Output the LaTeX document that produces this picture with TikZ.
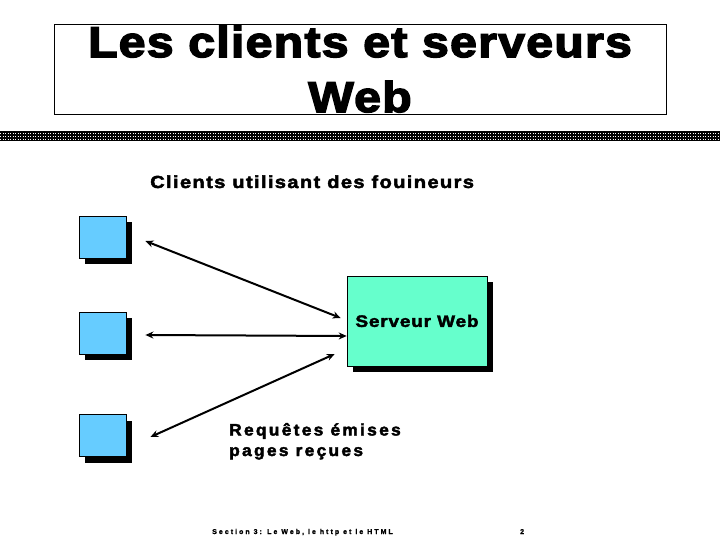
\documentclass[tikz,border=0pt]{standalone}
\usepackage{fontspec}
\setmainfont{Liberation Sans}
\newfontfamily\titlefont{Liberation Sans}[FakeBold=3.5,FakeStretch=1.12,LetterSpace=3]
\newfontfamily\headfont{Liberation Sans}[FakeBold=2.5,FakeStretch=1.15,LetterSpace=7.7]
\newfontfamily\spacedfont{Liberation Sans}[LetterSpace=14,FakeStretch=1.05,FakeBold=2.5]
\newfontfamily\srvfont{Liberation Sans}[FakeBold=2.5,FakeStretch=1.15,LetterSpace=5]
\newfontfamily\footfont{Liberation Sans}[LetterSpace=29,FakeBold=1.5]
\usetikzlibrary{shadows,arrows.meta}
\definecolor{clientblue}{RGB}{102,204,255}
\definecolor{servergreen}{RGB}{102,255,204}
\tikzset{
  clientbox/.style={draw=black, line width=0.8pt, fill=clientblue, minimum width=47pt, minimum height=42pt, inner sep=0pt,
    drop shadow={shadow xshift=6pt, shadow yshift=-6pt, fill=black, opacity=1}},
  serverbox/.style={draw=black, line width=0.6pt, fill=servergreen, minimum width=140pt, minimum height=90pt, inner sep=0pt,
    drop shadow={shadow xshift=6pt, shadow yshift=-6pt, fill=black, opacity=1},
    font=\srvfont\bfseries\fontsize{16.5}{20}\selectfont},
  link/.style={line width=2pt, {Stealth[length=8pt,width=7pt]}-{Stealth[length=8pt,width=7pt]}},
  lbl/.style={inner sep=0pt, anchor=base west}
}
\begin{document}
\begin{tikzpicture}[x=1pt,y=-1pt]
\useasboundingbox (0,0) rectangle (720,540);
% title
\node[draw=black, line width=0.6pt, minimum width=612pt, minimum height=90pt, inner sep=0pt] (title) at (360,69) {};
\begin{scope}
\clip (54,24) rectangle (666,114);
\node[inner sep=0pt, anchor=base] (t1) at (360,57) {\titlefont\bfseries\fontsize{43}{50}\selectfont Les clients et serveurs};
\node[inner sep=0pt, anchor=base] (t2) at (360,112) {\titlefont\bfseries\fontsize{43}{50}\selectfont Web};
\end{scope}
% hatched band
\fill[black] (0,131.5) rectangle (720,141.5);
\foreach \yy in {133.8,136.5,139.2}
  \draw[white, line width=0.9pt, dash pattern=on 1.2pt off 1.3pt] (0,\yy) -- (720,\yy);
% heading
\node[lbl] (head) at (150,188) {\headfont\bfseries\fontsize{17.5}{20}\selectfont Clients utilisant des fouineurs};
% clients
\node[clientbox] (c1) at (102.5,237) {};
\node[clientbox] (c2) at (102.5,333) {};
\node[clientbox] (c3) at (102.5,435.5) {};
% server
\node[serverbox] (srv) at (417,321) {Serveur Web};
% links
\coordinate (a1) at ([shift={(-6,-3)}]srv.west);
\coordinate (a3) at ([shift={(-12,33)}]srv.west);
\draw[link] ([shift={(19,4)}]c1.east) -- (a1);
\draw[link] ([shift={(19,2)}]c2.east) -- ([shift={(0,15)}]srv.west);
\draw[link] ([shift={(24,1.5)}]c3.east) -- (a3);
% labels
\node[lbl] (req) at (229,435.5) {\spacedfont\bfseries\fontsize{16.5}{20}\selectfont Requêtes émises};
\node[lbl] (pag) at (229,456) {\spacedfont\bfseries\fontsize{16.5}{20}\selectfont pages reçues};
% footer
\node[lbl] (foot) at (212,534) {\footfont\bfseries\fontsize{7}{8}\selectfont Section 3: Le Web, le http et le HTML};
\node[lbl] (num) at (520,534) {\footfont\bfseries\fontsize{7}{8}\selectfont 2};
\end{tikzpicture}
\end{document}
